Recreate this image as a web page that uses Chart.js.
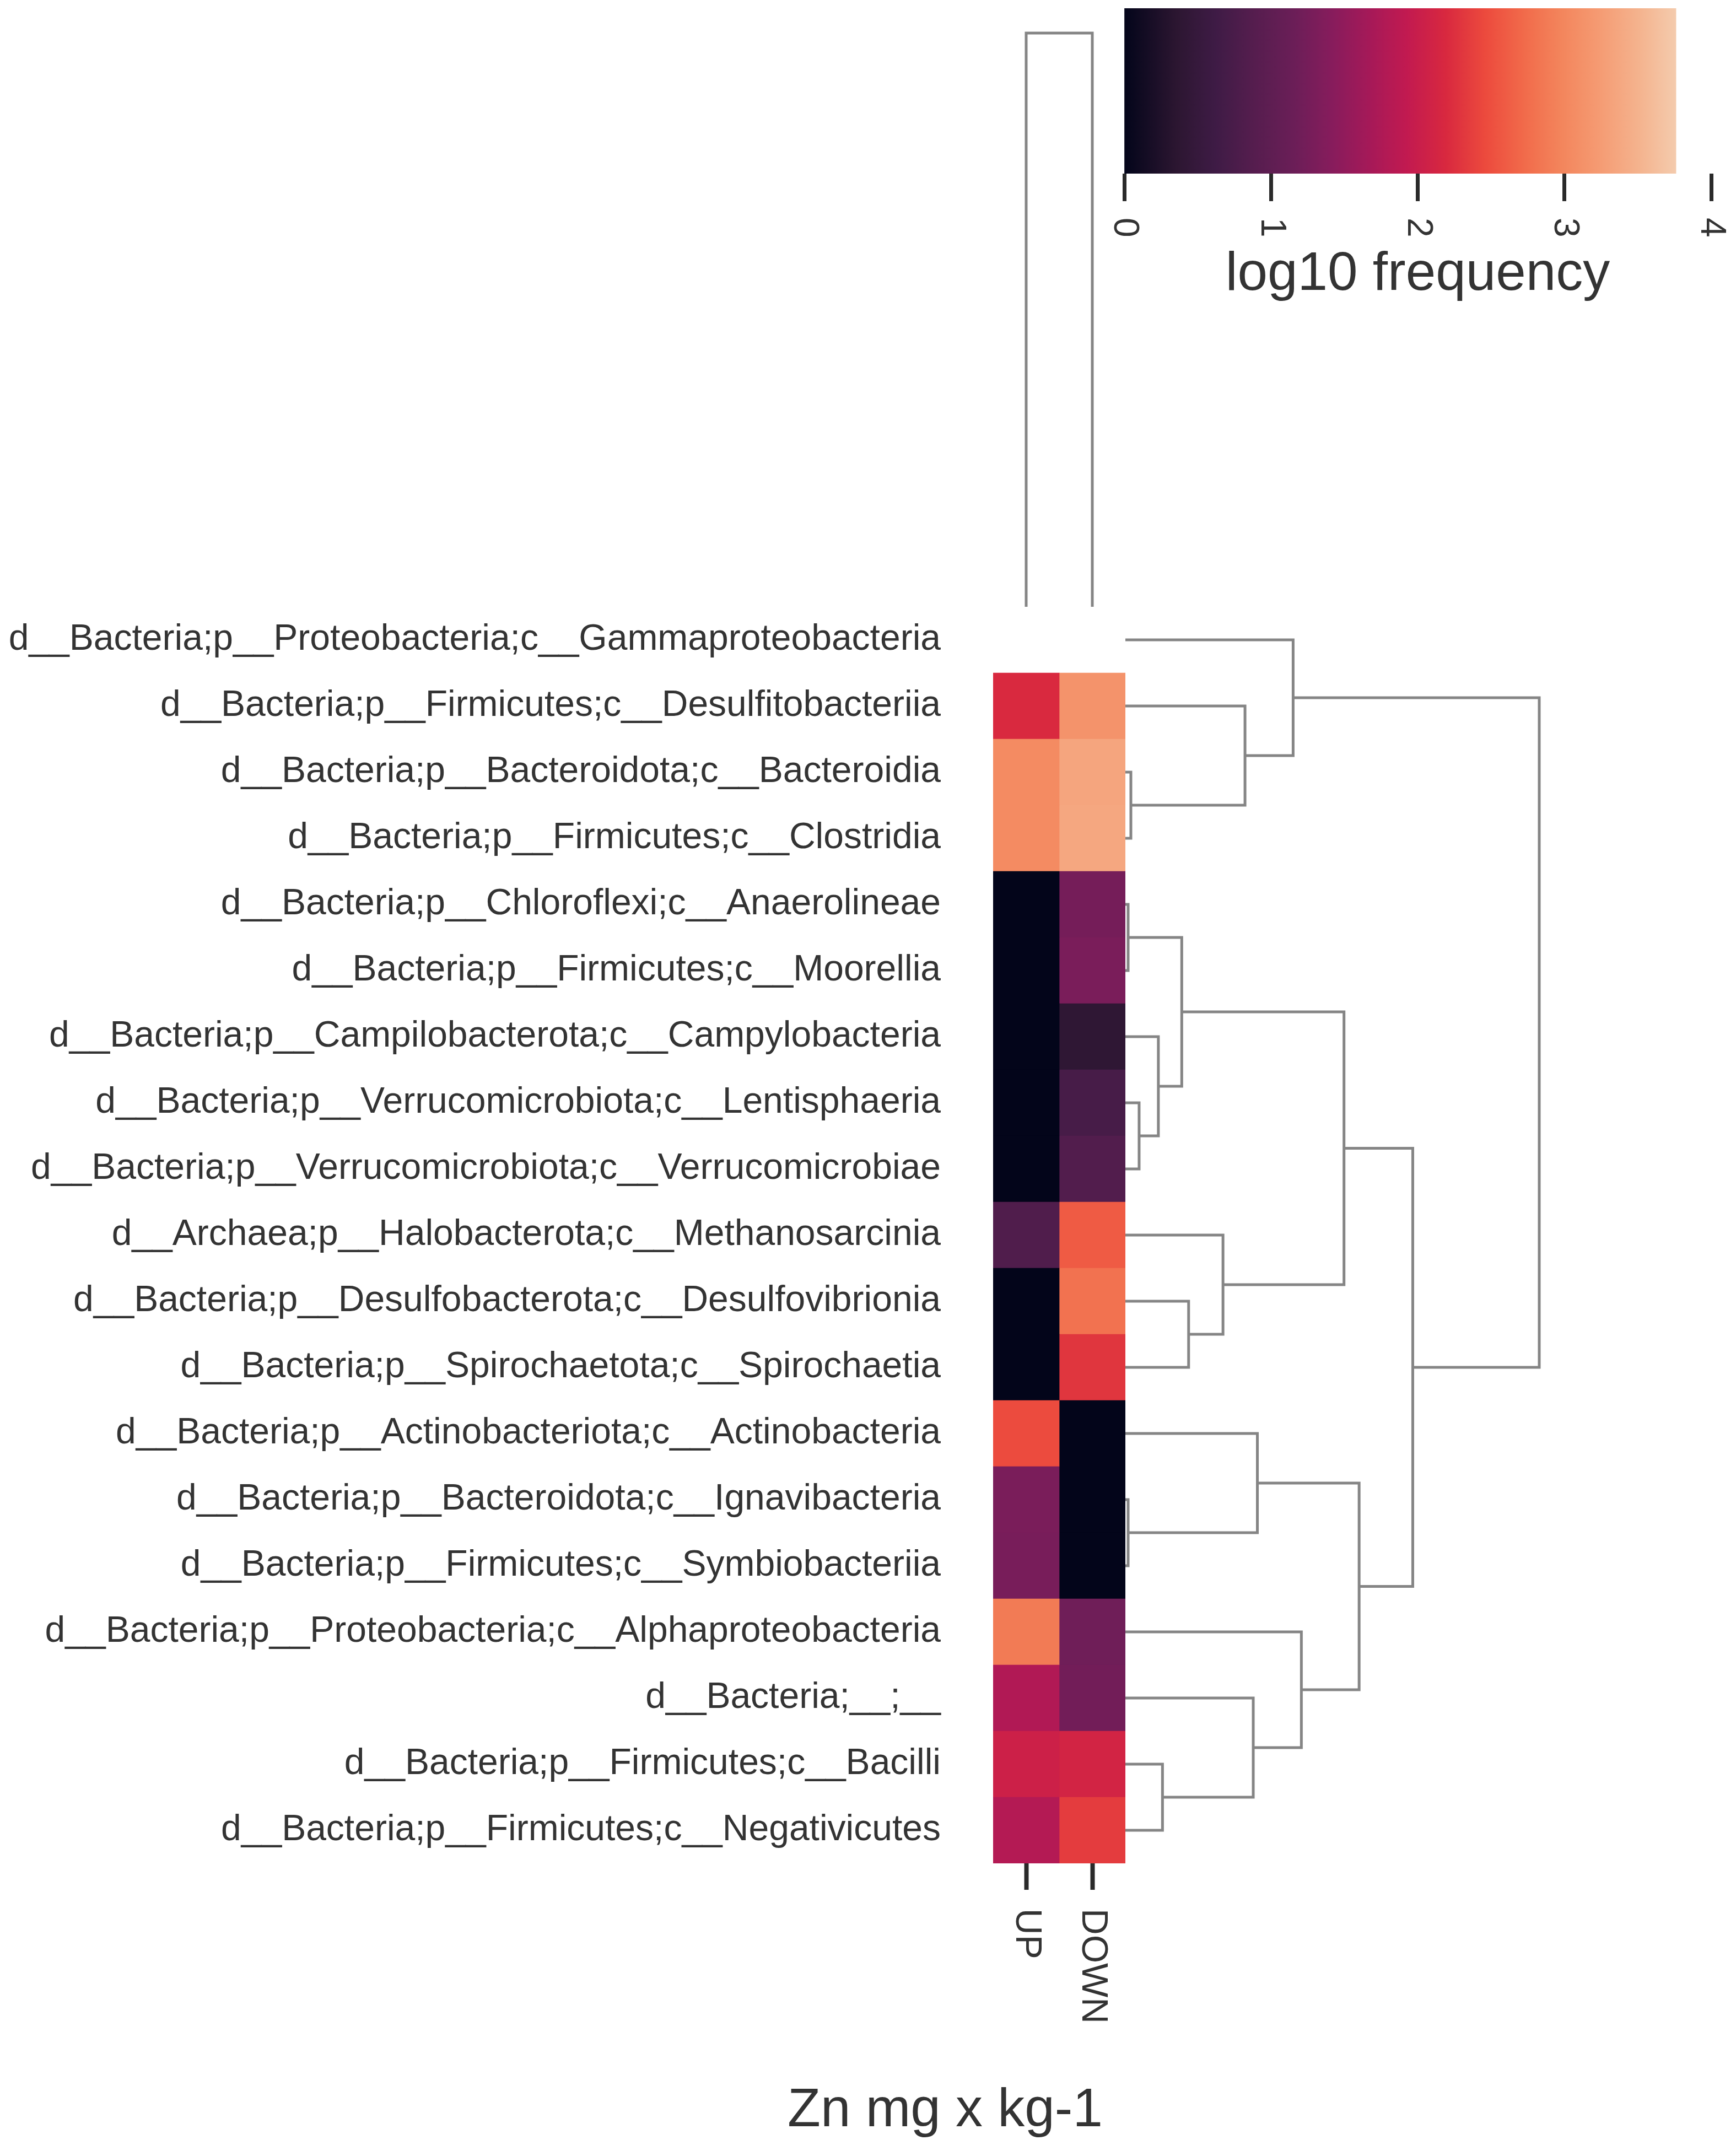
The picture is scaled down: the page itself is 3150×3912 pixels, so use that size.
<!DOCTYPE html>
<html lang="en">
<head>
<meta charset="UTF-8">
<title>Zn mg x kg-1 - clustered heatmap</title>
<script src="https://cdn.jsdelivr.net/npm/chart.js"></script>
<style>
    html, body { margin: 0; padding: 0; background: #fff; overflow: hidden; }
    #page { position: relative; width: 3150px; height: 3912px; }
    canvas { position: absolute; }
</style>
</head>
<body>
<div id="page">
    <canvas id="colTree" width="240" height="1101" style="left:1802px;top:0"></canvas>
    <canvas id="colorbar" width="1150" height="620" style="left:2000px;top:0"></canvas>
    <canvas id="heatmap" width="2042" height="2811" style="left:0;top:1101px"></canvas>
    <canvas id="rowTree" width="800" height="2280" style="left:2042px;top:1101px"></canvas>
</div>

<script>
    // ---- data ----
    const rowLabels = [
        'd__Bacteria;p__Proteobacteria;c__Gammaproteobacteria',
        'd__Bacteria;p__Firmicutes;c__Desulfitobacteriia',
        'd__Bacteria;p__Bacteroidota;c__Bacteroidia',
        'd__Bacteria;p__Firmicutes;c__Clostridia',
        'd__Bacteria;p__Chloroflexi;c__Anaerolineae',
        'd__Bacteria;p__Firmicutes;c__Moorellia',
        'd__Bacteria;p__Campilobacterota;c__Campylobacteria',
        'd__Bacteria;p__Verrucomicrobiota;c__Lentisphaeria',
        'd__Bacteria;p__Verrucomicrobiota;c__Verrucomicrobiae',
        'd__Archaea;p__Halobacterota;c__Methanosarcinia',
        'd__Bacteria;p__Desulfobacterota;c__Desulfovibrionia',
        'd__Bacteria;p__Spirochaetota;c__Spirochaetia',
        'd__Bacteria;p__Actinobacteriota;c__Actinobacteria',
        'd__Bacteria;p__Bacteroidota;c__Ignavibacteria',
        'd__Bacteria;p__Firmicutes;c__Symbiobacteriia',
        'd__Bacteria;p__Proteobacteria;c__Alphaproteobacteria',
        'd__Bacteria;__;__',
        'd__Bacteria;p__Firmicutes;c__Bacilli',
        'd__Bacteria;p__Firmicutes;c__Negativicutes'
    ];
    const colLabels = ['UP', 'DOWN'];

    // log10 frequency (null = no value, left blank)
    const upValues   = [null, 2.2, 3.05, 3.05, 0, 0, 0, 0, 0, 0.82, 0, 0, 2.47, 1.3, 1.28, 2.88, 1.78, 2.05, 1.8];
    const downValues = [null, 3.15, 3.35, 3.37, 1.25, 1.3, 0.4, 0.72, 0.85, 2.6, 2.8, 2.3, 0, 0, 0, 1.2, 1.22, 2.12, 2.35];

    const colorMax = 3.76;
    const colorTicks = [0, 1, 2, 3, 4];

    // row dendrogram: merge k creates node id rowLabels.length + k
    const rowLinkLeft   = [4, 13, 2, 7, 6, 17, 19, 10, 9, 1, 16, 12, 0, 15, 25, 30, 33, 31];
    const rowLinkRight  = [5, 14, 3, 8, 22, 18, 23, 11, 26, 21, 24, 20, 28, 29, 27, 32, 34, 35];
    const rowLinkHeight = [0.02, 0.02, 0.04, 0.10, 0.24, 0.27, 0.41, 0.46, 0.71, 0.87, 0.93, 0.96, 1.22, 1.28, 1.59, 1.70, 2.09, 3.01];

    // column dendrogram
    const colLinkLeft   = [0];
    const colLinkRight  = [1];
    const colLinkHeight = [1];

    // ---- styling ----
    const FONT = "'Liberation Sans', Arial, Helvetica, sans-serif";
    const TEXT = '#333333';
    const TREE = '#858585';
    Chart.defaults.font.family = FONT;
    Chart.defaults.color = TEXT;

    // colormap sampled along the colour bar
    const cmapValues = [0, 0.36, 0.62, 0.88, 1.15, 1.41, 1.67, 1.93, 2.19, 2.46, 2.72, 2.98, 3.25, 3.51, 3.76];
    const cmapColors = ['#03051a', '#2c1631', '#3e1b45', '#551d4e', '#6a1e57', '#861c5c', '#a51958', '#c21a50',
                        '#d8283f', '#ec4a3d', '#f16a4a', '#f3855c', '#f59c74', '#f4b38e', '#f4cbad'];

    function hexRgb(h) {
        return [1, 3, 5].map(i => parseInt(h.slice(i, i + 2), 16));
    }

    function colorFor(v) {
        if (v === null) return 'rgba(0,0,0,0)';
        if (v <= cmapValues[0]) return cmapColors[0];
        for (let i = 1; i < cmapValues.length; i++) {
            if (v <= cmapValues[i]) {
                const t = (v - cmapValues[i - 1]) / (cmapValues[i] - cmapValues[i - 1]);
                const a = hexRgb(cmapColors[i - 1]), b = hexRgb(cmapColors[i]);
                const c = a.map((x, k) => Math.round(x + (b[k] - x) * t));
                return `rgb(${c[0]},${c[1]},${c[2]})`;
            }
        }
        return cmapColors[cmapColors.length - 1];
    }

    // U-shaped links, leaves at integer positions, node placed between its children
    function treeSegments(nLeaves, left, right, height) {
        const pos = [], h = [];
        for (let i = 0; i < nLeaves; i++) { pos.push(i); h.push(0); }
        return left.map((a, k) => {
            const b = right[k];
            pos.push((pos[a] + pos[b]) / 2);
            h.push(height[k]);
            return [[pos[a], h[a]], [pos[a], height[k]], [pos[b], height[k]], [pos[b], h[b]]];
        });
    }

    const lineStyle = {
        showLine: true, pointRadius: 0, borderColor: TREE, borderWidth: 5,
        tension: 0, clip: false, fill: false
    };

    const base = {
        responsive: false,
        animation: false,
        devicePixelRatio: 1,
        events: [],
        plugins: { legend: { display: false }, tooltip: { enabled: false } }
    };

    // tick labels turned a quarter clockwise, read top to bottom
    const rotatedTicks = {
        id: 'rotatedTicks',
        afterDraw(chart, args, opts) {
            const s = chart.scales[opts.scale];
            if (!s) return;
            const ctx = chart.ctx;
            ctx.save();
            ctx.font = `${opts.size}px ${FONT}`;
            ctx.fillStyle = TEXT;
            ctx.textAlign = 'left';
            ctx.textBaseline = 'middle';
            s.ticks.forEach(t => {
                ctx.save();
                ctx.translate(s.getPixelForValue(t.value), s.top + opts.offset);
                ctx.rotate(Math.PI / 2);
                ctx.fillText(t.label != null ? String(t.label) : String(t.value), 0, 0);
                ctx.restore();
            });
            ctx.restore();
        }
    };

    const figText = {
        id: 'figText',
        afterDraw(chart, args, opts) {
            const ctx = chart.ctx;
            ctx.save();
            ctx.font = `${opts.size}px ${FONT}`;
            ctx.fillStyle = TEXT;
            ctx.textAlign = 'center';
            ctx.textBaseline = 'middle';
            ctx.fillText(opts.text, opts.x, opts.y);
            ctx.restore();
        }
    };

    // ---- heatmap ----
    const cellData = (vals, c) => vals.map(v => v === null ? null : [c, c + 1]);
    new Chart(document.getElementById('heatmap'), {
        type: 'bar',
        data: {
            labels: rowLabels,
            datasets: [upValues, downValues].map((vals, c) => ({
                label: colLabels[c],
                data: cellData(vals, c),
                backgroundColor: vals.map(colorFor),
                borderWidth: 0,
                grouped: false,
                barPercentage: 1,
                categoryPercentage: 1
            }))
        },
        plugins: [rotatedTicks, figText],
        options: {
            ...base,
            indexAxis: 'y',
            layout: { padding: 0 },
            plugins: {
                ...base.plugins,
                rotatedTicks: { scale: 'x', size: 66, offset: 82 },
                figText: { text: 'Zn mg x kg-1', size: 98, x: 1715, y: 2730 }
            },
            scales: {
                x: {
                    type: 'linear',
                    min: 0,
                    max: colLabels.length,
                    afterBuildTicks: s => { s.ticks = colLabels.map((_, i) => ({ value: i + 0.5 })); },
                    ticks: { display: false, callback: (v, i) => colLabels[i] },
                    grid: { drawOnChartArea: false, tickLength: 48, tickWidth: 8, tickColor: '#2a2a2a' },
                    border: { display: false },
                    afterFit: s => { s.height = 531; s.paddingLeft = 0; s.paddingRight = 0; }
                },
                y: {
                    type: 'category',
                    position: 'left',
                    ticks: { autoSkip: false, padding: 95, font: { size: 66 }, color: TEXT },
                    grid: { display: false, drawTicks: false },
                    border: { display: false },
                    afterFit: s => { s.width = 1802; s.paddingTop = 0; s.paddingBottom = 0; }
                }
            }
        }
    });

    // ---- row dendrogram ----
    new Chart(document.getElementById('rowTree'), {
        type: 'scatter',
        data: {
            datasets: treeSegments(rowLabels.length, rowLinkLeft, rowLinkRight, rowLinkHeight)
                .map(seg => ({ data: seg.map(([p, h]) => ({ x: h, y: p })), ...lineStyle }))
        },
        options: {
            ...base,
            layout: { padding: { right: 49 } },
            scales: {
                x: { type: 'linear', min: 0, max: Math.max(...rowLinkHeight), display: false },
                y: { type: 'linear', min: -0.5, max: rowLabels.length - 0.5, reverse: true, display: false }
            }
        }
    });

    // ---- column dendrogram ----
    new Chart(document.getElementById('colTree'), {
        type: 'scatter',
        data: {
            datasets: treeSegments(colLabels.length, colLinkLeft, colLinkRight, colLinkHeight)
                .map(seg => ({ data: seg.map(([p, h]) => ({ x: p, y: h })), ...lineStyle }))
        },
        options: {
            ...base,
            layout: { padding: { top: 60 } },
            scales: {
                x: { type: 'linear', min: -0.5, max: colLabels.length - 0.5, display: false },
                y: { type: 'linear', min: 0, max: Math.max(...colLinkHeight), display: false }
            }
        }
    });

    // ---- colour bar ----
    function barGradient(c) {
        const chart = c.chart, xs = chart.scales.x;
        if (!chart.chartArea || !xs) return cmapColors[7];
        const x0 = xs.getPixelForValue(0), x1 = xs.getPixelForValue(colorMax);
        if (!isFinite(x0) || !isFinite(x1) || x1 <= x0) return cmapColors[7];
        const g = chart.ctx.createLinearGradient(x0, 0, x1, 0);
        cmapValues.forEach((v, i) => g.addColorStop(v / colorMax, cmapColors[i]));
        return g;
    }

    new Chart(document.getElementById('colorbar'), {
        type: 'bar',
        data: {
            labels: [''],
            datasets: [{
                data: [[0, colorMax]],
                borderWidth: 0,
                barPercentage: 1,
                categoryPercentage: 1,
                backgroundColor: barGradient
            }]
        },
        plugins: [rotatedTicks],
        options: {
            ...base,
            indexAxis: 'y',
            layout: { padding: { left: 40, right: 45, top: 15, bottom: 0 } },
            plugins: {
                ...base.plugins,
                rotatedTicks: { scale: 'x', size: 64, offset: 80 }
            },
            scales: {
                x: {
                    type: 'linear',
                    min: colorTicks[0],
                    max: colorTicks[colorTicks.length - 1],
                    afterBuildTicks: s => { s.ticks = colorTicks.map(v => ({ value: v })); },
                    ticks: { display: false },
                    grid: { drawOnChartArea: false, tickLength: 50, tickWidth: 7, tickColor: '#2a2a2a' },
                    border: { display: false },
                    title: {
                        display: true, text: 'log10 frequency', color: TEXT,
                        font: { size: 98 }, padding: { top: 0, bottom: 62 }
                    },
                    afterFit: s => { s.height = 305; s.paddingLeft = 0; s.paddingRight = 0; }
                },
                y: { type: 'category', display: false }
            }
        }
    });
</script>
</body>
</html>
